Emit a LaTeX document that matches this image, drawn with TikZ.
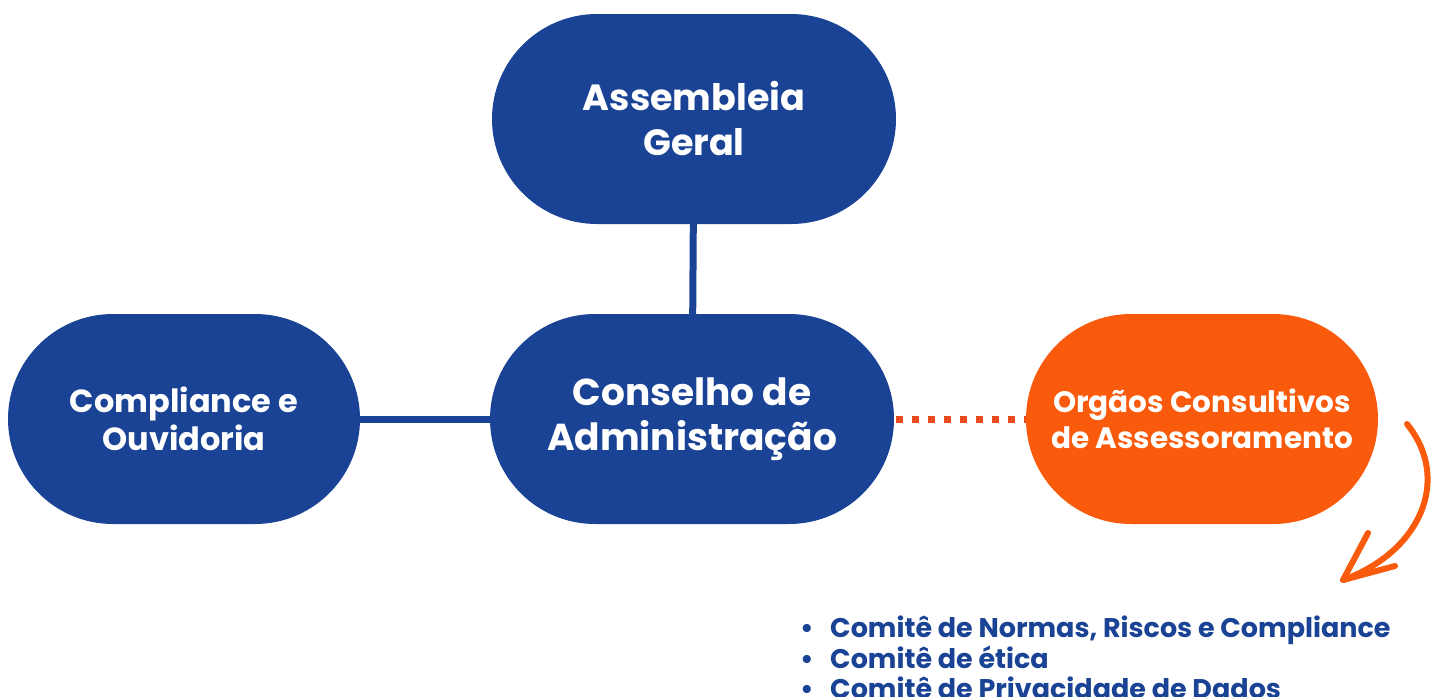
\documentclass[tikz,border=0pt]{standalone}
\usepackage{fontspec}
\setmainfont{Poppins}
\definecolor{azul}{HTML}{1A4396}
\definecolor{laranja}{HTML}{FA5A0B}
\definecolor{pontos}{HTML}{E84E1B}
\begin{document}
\begin{tikzpicture}[x=1pt, y=-1pt,
  caixa/.style={fill=azul, rounded corners=105pt, minimum width=404pt,
    minimum height=210pt, inner sep=0pt, text=white, align=center,
    font=\bfseries\fontsize{36.5}{45}\selectfont},
  caixapeq/.style={caixa, minimum width=352pt, font=\bfseries\fontsize{32}{38}\selectfont},
  linha/.style={azul, line width=7pt}]
% Rahmen
\useasboundingbox (0,0) rectangle (1437,696);
% Knoten
\node[caixa] (ag) at (694,119) {Assembleia\\Geral};
\node[caixa, font=\bfseries\fontsize{37.5}{45}\selectfont] (ca) at (692,419) {Conselho de\\Administração};
\node[caixapeq] (co) at (184,419) {Compliance e\\Ouvidoria};
\node[caixapeq, fill=laranja, font=\bfseries\fontsize{29.5}{36}\selectfont] (oc) at (1202,419)
  {Orgãos Consultivos\\de Assessoramento};
% Linien
\draw[linha] (ag) -- (ca);
\draw[linha] (co) -- (ca);
\draw[pontos, line width=7pt, dash pattern=on 7pt off 9pt] (ca.east) ++(2,0) -- (oc.west);
% Pfeil
\coordinate (p0) at (1407,424);
\coordinate (p1) at (1343,580);
\draw[laranja, line width=6pt, line cap=round, line join=round]
  (p0) .. controls (1452,480) and (1420,552) .. (p1);
\draw[laranja, line width=6pt, line cap=round, line join=round]
  (1368,533) -- (p1) -- (1395,566);
% Liste
\node[anchor=north west, text=azul, align=left, inner sep=0pt,
  font=\bfseries\fontsize{27}{29.5}\selectfont] (lista) at (800,616)
  {\makebox[30pt][l]{•}Comitê de Normas, Riscos e Compliance\\
   \makebox[30pt][l]{•}Comitê de ética\\
   \makebox[30pt][l]{•}Comitê de Privacidade de Dados};
\end{tikzpicture}
\end{document}
